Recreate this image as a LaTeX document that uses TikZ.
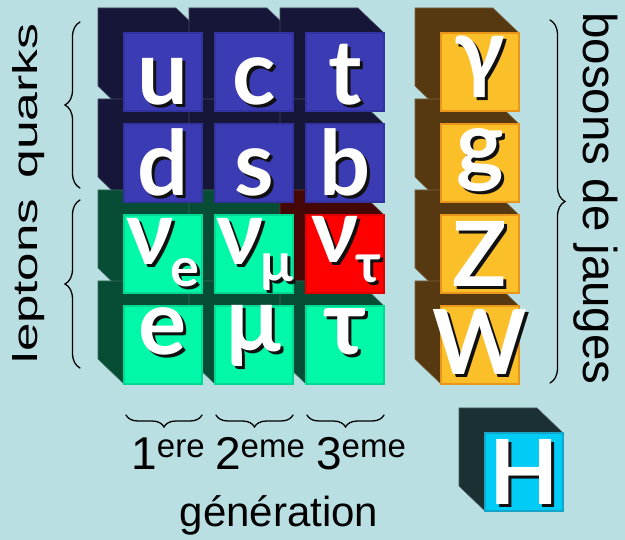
\documentclass[tikz,border=0pt]{standalone}
\usepackage{fontspec}
\usepackage{graphicx}
\setmainfont{Liberation Sans}
\newfontfamily\cubefont{Lato}
\usetikzlibrary{decorations.pathreplacing}
\definecolor{bg}{HTML}{B9DFE3}
\definecolor{qfront}{HTML}{3B3BB3}
\definecolor{qedge}{HTML}{3232A0}
\definecolor{qdark}{HTML}{161638}
\definecolor{lfront}{HTML}{00F8A8}
\definecolor{ledge}{HTML}{00D894}
\definecolor{ldark}{HTML}{074C35}
\definecolor{rfront}{HTML}{FF0000}
\definecolor{redge}{HTML}{E00000}
\definecolor{rdark}{HTML}{450606}
\definecolor{bfront}{HTML}{FBBF2A}
\definecolor{bedge}{HTML}{E9961A}
\definecolor{bdark}{HTML}{563910}
\definecolor{hfront}{HTML}{00CCF5}
\definecolor{hedge}{HTML}{14A6C8}
\definecolor{hdark}{HTML}{1B3033}
\definecolor{shade}{HTML}{101010}
\tikzset{
  letterw/.style={font=\cubefont\bfseries\fontsize{90}{90}\selectfont, text=white, inner sep=0pt, anchor=base},
  lbl/.style={font=\fontsize{46}{46}\selectfont, inner sep=0pt},
  brc/.style={decorate, decoration={brace, amplitude=#1}, line width=1.3pt, line cap=round},
  frontface/.style={line width=1.2pt},
  darkedge/.style={line width=0.6pt}
}
\newcommand\cubeback[3]{\filldraw[darkedge, fill=#3, draw=#3!80!white] (#1-26,#2-25) -- (#1+52,#2-25) -- (#1+78,#2) -- (#1+78,#2+78) -- (#1,#2+78) -- (#1-26,#2+53) -- cycle;}
\newcommand\cubefront[4]{\filldraw[frontface, fill=#3, draw=#4] (#1,#2) rectangle (#1+78,#2+78);}
\newcommand\glyph[4]{\node[letterw] (#1) at (#2,#3) {\rlap{\kern3pt\raisebox{-3pt}{\textcolor{shade}{#4}}}#4};}
\newcommand\subtx[2]{\kern-3pt\raisebox{#1}{\fontsize{54}{54}\selectfont #2}}
\begin{document}
\begin{tikzpicture}[x=1pt,y=-1pt]
\useasboundingbox (0,0) rectangle (625,540);
\fill[bg] (0,0) rectangle (625,540);
% dark sides
\cubeback{124}{33}{qdark}\cubeback{215}{33}{qdark}\cubeback{306}{33}{qdark}\cubeback{441}{33}{bdark}
\cubeback{124}{124}{qdark}\cubeback{215}{124}{qdark}\cubeback{306}{124}{qdark}\cubeback{441}{124}{bdark}
\cubeback{124}{215}{ldark}\cubeback{215}{215}{ldark}\cubeback{306}{215}{rdark}\cubeback{441}{215}{bdark}
\cubeback{124}{306}{ldark}\cubeback{215}{306}{ldark}\cubeback{306}{306}{ldark}\cubeback{441}{306}{bdark}
\cubeback{485}{433}{hdark}
% front faces
\cubefront{124}{33}{qfront}{qedge}\cubefront{215}{33}{qfront}{qedge}\cubefront{306}{33}{qfront}{qedge}\cubefront{441}{33}{bfront}{bedge}
\cubefront{124}{124}{qfront}{qedge}\cubefront{215}{124}{qfront}{qedge}\cubefront{306}{124}{qfront}{qedge}\cubefront{441}{124}{bfront}{bedge}
\cubefront{124}{215}{lfront}{ledge}\cubefront{215}{215}{lfront}{ledge}\cubefront{306}{215}{rfront}{redge}\cubefront{441}{215}{bfront}{bedge}
\cubefront{124}{306}{lfront}{ledge}\cubefront{215}{306}{lfront}{ledge}\cubefront{306}{306}{lfront}{ledge}\cubefront{441}{306}{bfront}{bedge}
\cubefront{485}{433}{hfront}{hedge}
% letters
\glyph{u}{163}{105}{u}\glyph{c}{254}{105}{c}\glyph{t}{345}{105}{t}
\glyph{d}{163}{196}{d}\glyph{s}{254}{196}{s}\glyph{b}{345}{196}{b}
\glyph{nue}{163}{265}{ν\subtx{-22pt}{e}}
\glyph{num}{255}{265}{ν\subtx{-17pt}{μ}}
\glyph{nut}{346}{263}{ν\subtx{-20pt}{τ}}
\glyph{e}{163}{355}{e}\glyph{mu}{254}{352}{μ}\glyph{tau}{345}{355}{τ}
\glyph{gam}{480}{83}{γ}\glyph{g}{480}{176}{g}\glyph{Z}{480}{287}{Z}\glyph{W}{480}{375}{W}
\glyph{H}{524}{505}{H}
% braces
\coordinate (qa) at (80,188); \coordinate (qb) at (80,22);
\coordinate (la) at (80,368); \coordinate (lb) at (80,200);
\coordinate (ba) at (550,20); \coordinate (bb) at (550,383);
\draw[brc=15pt] (qa) -- (qb);
\draw[brc=15pt] (la) -- (lb);
\draw[brc=15pt] (ba) -- (bb);
\coordinate (g1a) at (202,415); \coordinate (g1b) at (126,415);
\coordinate (g2a) at (293,415); \coordinate (g2b) at (216,415);
\coordinate (g3a) at (384,415); \coordinate (g3b) at (307,415);
\draw[brc=12pt] (g1a) -- (g1b);
\draw[brc=12pt] (g2a) -- (g2b);
\draw[brc=12pt] (g3a) -- (g3b);
% labels
\node[lbl, rotate=90, font=\fontsize{34.5}{34.5}\selectfont] (quarks) at (29,101) {\scalebox{1.5}[1]{quarks}};
\node[lbl, rotate=90, font=\fontsize{34.5}{34.5}\selectfont] (leptons) at (29,281) {\scalebox{1.48}[1]{leptons}};
\node[lbl, rotate=-90, font=\fontsize{47.5}{47.5}\selectfont] (bosons) at (595.5,198.5) {bosons de jauges};
\node[lbl, anchor=base] (gen1) at (168,470) {1\raisebox{12pt}{\fontsize{33}{33}\selectfont ere}};
\node[lbl, anchor=base] (gen2) at (260,470) {2\raisebox{12pt}{\fontsize{33}{33}\selectfont eme}};
\node[lbl, anchor=base] (gen3) at (361,470) {3\raisebox{12pt}{\fontsize{33}{33}\selectfont eme}};
\node[lbl, anchor=base, font=\fontsize{42}{42}\selectfont] (gen) at (279,527) {génération};
\end{tikzpicture}
\end{document}
